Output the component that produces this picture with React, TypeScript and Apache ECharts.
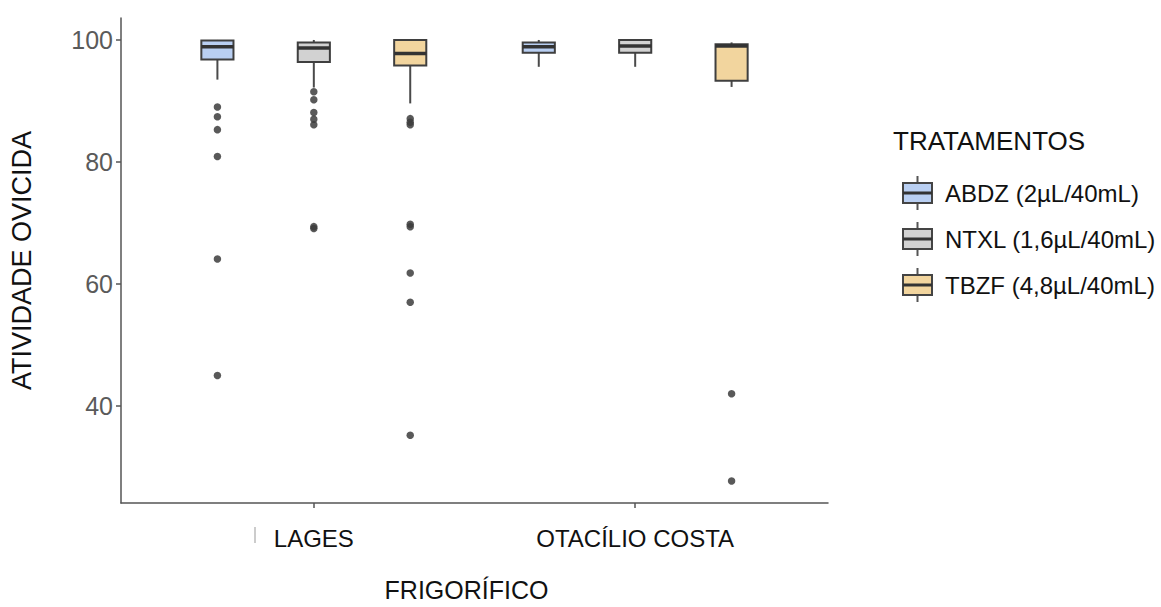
import { useEffect, useRef } from "react";
import * as echarts from "echarts";

// ---- data ----
const groups = ["LAGES", "OTACÍLIO COSTA"];
const treatments = ["ABDZ (2µL/40mL)", "NTXL (1,6µL/40mL)", "TBZF (4,8µL/40mL)"];
const fills = ["#b9cff2", "#d2d2d2", "#f2d59e"];
// per group: [whiskerLow, q1, median, q3, whiskerHigh]
const abdzBoxes = [
  [93.5, 96.8, 98.9, 99.9, 100],
  [95.6, 97.9, 98.9, 99.6, 100],
];
const ntxlBoxes = [
  [92.2, 96.4, 98.7, 99.6, 100],
  [95.6, 97.9, 99.0, 100, 100],
];
const tbzfBoxes = [
  [89.6, 95.8, 97.8, 100, 100],
  [92.3, 93.3, 99.0, 99.3, 99.6],
];
const abdzOutliers = [[89.0, 87.4, 85.3, 80.9, 64.1, 45.0], []];
const ntxlOutliers = [[91.5, 90.2, 88.1, 87.0, 86.1, 69.4, 69.1], []];
const tbzfOutliers = [[87.1, 86.5, 86.1, 69.8, 69.4, 61.8, 57.0, 35.2], [42.0, 27.7]];
const yTicks = [40, 60, 80, 100];

const allBoxes = [abdzBoxes, ntxlBoxes, tbzfBoxes];
const allOutliers = [abdzOutliers, ntxlOutliers, tbzfOutliers];

const DODGE = 0.3;
const BOX_W = 0.1;
const FONT = "'Liberation Sans', Arial, Helvetica, sans-serif";

export default function App() {
  const ref = useRef<HTMLDivElement>(null);
  useEffect(() => {
    if (!ref.current) return;
    const chart = echarts.init(ref.current, null, { renderer: "svg" });
    const groupX = (gi: number, ti: number) => gi + 1 + (ti - 1) * DODGE;

    const boxSeries = allBoxes.map((boxes, ti) => ({
      type: "custom",
      name: treatments[ti],
      data: boxes.map((b, gi) => [groupX(gi, ti), ...b]),
      encode: { x: 0, y: [1, 2, 3, 4, 5] },
      z: 3,
      renderItem: (params: any, api: any) => {
        const x = api.value(0);
        const lo = api.coord([x, api.value(1)])[1];
        const q1 = api.coord([x, api.value(2)])[1];
        const med = api.coord([x, api.value(3)])[1];
        const q3 = api.coord([x, api.value(4)])[1];
        const hi = api.coord([x, api.value(5)])[1];
        const cx = api.coord([x, api.value(3)])[0];
        const hw = api.size([BOX_W, 0])[0] / 2;
        return {
          type: "group",
          children: [
            { type: "line", shape: { x1: cx, y1: hi, x2: cx, y2: q3 }, style: { stroke: "#4a4a4a", lineWidth: 2 } },
            { type: "line", shape: { x1: cx, y1: q1, x2: cx, y2: lo }, style: { stroke: "#4a4a4a", lineWidth: 2 } },
            {
              type: "rect",
              shape: { x: cx - hw, y: q3, width: hw * 2, height: Math.max(q1 - q3, 0.5) },
              style: { fill: fills[ti], stroke: "#3f3f3f", lineWidth: 2 },
            },
            { type: "line", shape: { x1: cx - hw, y1: med, x2: cx + hw, y2: med }, style: { stroke: "#333333", lineWidth: 3.5 } },
          ],
        };
      },
    }));

    const outlierSeries = allOutliers.map((outs, ti) => ({
      type: "scatter",
      name: treatments[ti] + " outliers",
      data: outs.flatMap((vals, gi) => vals.map((v) => [groupX(gi, ti), v])),
      symbol: "circle",
      symbolSize: 7.5,
      itemStyle: { color: "#3c3c3c", opacity: 0.85 },
      z: 4,
    }));

    const legendItems: any[] = [];
    treatments.forEach((t, i) => {
      const cy = 193 + 46 * i;
      legendItems.push(
        { type: "line", shape: { x1: 917.5, y1: cy - 17, x2: 917.5, y2: cy + 17 }, style: { stroke: "#555", lineWidth: 2 } },
        { type: "rect", shape: { x: 903, y: cy - 10, width: 29, height: 20 }, style: { fill: fills[i], stroke: "#444", lineWidth: 2 } },
        { type: "line", shape: { x1: 903, y1: cy, x2: 932, y2: cy }, style: { stroke: "#333", lineWidth: 3 } },
        {
          type: "text",
          x: 945,
          y: cy,
          style: { text: t, font: `24px ${FONT}`, fill: "#111", verticalAlign: "middle", align: "left" },
        }
      );
    });

    chart.setOption({
      animation: false,
      backgroundColor: "#ffffff",
      grid: { left: 120, right: 333, top: 18, bottom: 94, containLabel: false },
      xAxis: {
        type: "value",
        min: 0.4,
        max: 2.6,
        name: "FRIGORÍFICO",
        nameLocation: "middle",
        nameGap: 74,
        nameTextStyle: { fontFamily: FONT, fontSize: 25, color: "#111", padding: [0, 16, 0, 0] },
        axisLine: { show: true, lineStyle: { color: "#555", width: 1.5 } },
        axisTick: { show: true, customValues: [1, 2], length: 5, lineStyle: { color: "#555", width: 1.5 } },
        axisLabel: {
          customValues: [1, 2],
          margin: 23,
          fontFamily: FONT,
          fontSize: 24,
          color: "#111",
          formatter: (v: number) => groups[Math.round(v) - 1] ?? "",
        },
        splitLine: { show: false },
      },
      yAxis: {
        type: "value",
        min: 24.1,
        max: 103.6,
        name: "ATIVIDADE OVICIDA",
        nameLocation: "middle",
        nameGap: 86,
        nameRotate: 90,
        nameTextStyle: { fontFamily: FONT, fontSize: 27, color: "#111" },
        axisLine: { show: true, lineStyle: { color: "#555", width: 1.5 } },
        axisTick: { show: true, customValues: yTicks, length: 5, lineStyle: { color: "#555", width: 1.5 } },
        axisLabel: {
          customValues: yTicks,
          margin: 8,
          fontFamily: FONT,
          fontSize: 25,
          color: "#5a5a5a",
        },
        splitLine: { show: false },
      },
      graphic: [
        {
          type: "text",
          x: 893,
          y: 141,
          style: { text: "TRATAMENTOS", font: `26px ${FONT}`, fill: "#111", verticalAlign: "middle", align: "left" },
        },
        ...legendItems,
        { type: "line", shape: { x1: 255, y1: 527, x2: 255, y2: 543 }, style: { stroke: "#999", lineWidth: 1 } },
      ],
      series: [...boxSeries, ...outlierSeries],
    });
    return () => chart.dispose();
  }, []);
  return <div ref={ref} style={{ position: "fixed", left: 0, top: 0, width: 1161, height: 607 }} />;
}
